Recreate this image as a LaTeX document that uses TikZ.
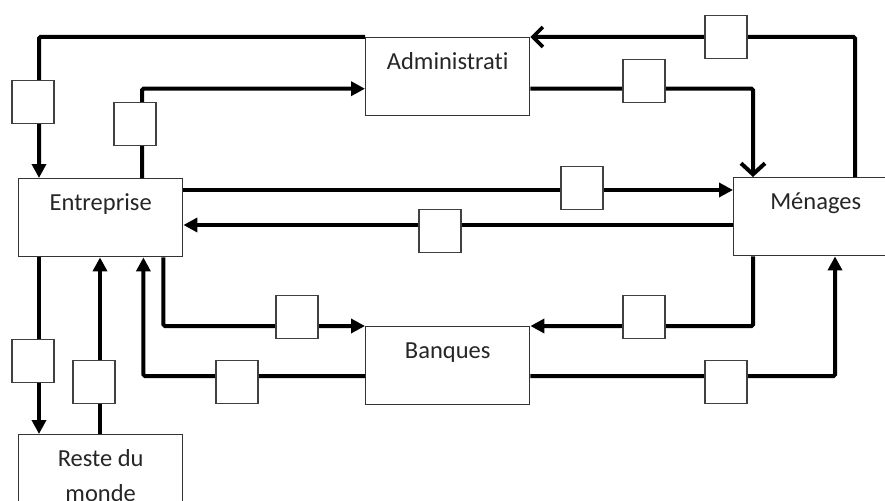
\documentclass[tikz,border=0pt]{standalone}
\usepackage{fontspec}
\setmainfont{Carlito}[Ligatures=NoCommon]
\usetikzlibrary{arrows.meta}
\begin{document}
\begin{tikzpicture}[x=1pt,y=-1pt,
  mainbox/.style={draw=black!80, line width=1.4pt, fill=white, minimum width=164pt,
    minimum height=78pt, inner sep=0pt, text height=32pt, text depth=46pt,
    font=\fontsize{24.5}{35}\selectfont, text=black!85, anchor=north west},
  flowbox/.style={draw=black!75, line width=1.3pt, fill=white, minimum width=42pt,
    minimum height=43pt, inner sep=0pt},
  flow/.style={line width=4pt, rounded corners=1.5pt},
  tip/.style={-{Triangle[length=14pt,width=14pt]}},
  barb/.style={-{Straight Barb[length=10pt,width=20pt,line width=3.6pt]}},
  bigbarb/.style={-{Straight Barb[length=11pt,width=24pt,line width=4pt]}}
]
\useasboundingbox (0,0) rectangle (885,500);
\clip (0,0) rectangle (885,500);

% main boxes
\node[mainbox] (adm) at (365,37) {Administrati};
\node[mainbox] (ent) at (18,178) {Entreprise};
\node[mainbox] (men) at (733,177) {Ménages};
\node[mainbox] (ban) at (365,326) {Banques};
\node[mainbox] (rdm) at (18,434) {\begin{tabular}[t]{@{}c@{}}Reste du\\monde\end{tabular}};

% connectors
\draw[flow,barb] ([xshift=122pt]men.north west) |- (adm.north east);
\draw[flow,tip] (adm.north west) -| ([xshift=21pt]ent.north west);
\draw[flow,tip] ([xshift=124pt]ent.north west) |- ([yshift=-12pt]adm.west);
\draw[flow,bigbarb] ([yshift=-12pt]adm.east) -| ([xshift=20pt]men.north west);
\draw[flow,tip] ([yshift=-12pt]ent.north east) -- ([yshift=-13pt]men.north west);
\draw[flow,tip] ([yshift=-48pt]men.north west) -- ([yshift=-47pt]ent.north east);
\draw[flow,tip] ([xshift=21pt]ent.south west) -- ([xshift=21pt]rdm.north west);
\draw[flow,tip] ([xshift=82pt]rdm.north west) -- ([xshift=82pt]ent.south west);
\draw[flow,tip] ([xshift=-20pt]ent.south east) |- (ban.north west);
\draw[flow,tip] ([yshift=-50pt]ban.north west) -| ([xshift=-40pt]ent.south east);
\draw[flow,tip] ([xshift=20pt]men.south west) |- (ban.north east);
\draw[flow,tip] ([yshift=-50pt]ban.north east) -| ([xshift=102pt]men.south west);

% small flow boxes
\node[flowbox] (q1) at (726,37) {};
\node[flowbox] (q2) at (33,102) {};
\node[flowbox] (q3) at (135,124) {};
\node[flowbox] (q4) at (644,81) {};
\node[flowbox] (q5) at (582,188) {};
\node[flowbox] (q6) at (440,231) {};
\node[flowbox] (q7) at (33,361) {};
\node[flowbox] (q8) at (94,382) {};
\node[flowbox] (q9) at (297,317) {};
\node[flowbox] (q10) at (237,382) {};
\node[flowbox] (q11) at (644,317) {};
\node[flowbox] (q12) at (726,382) {};
\end{tikzpicture}
\end{document}
